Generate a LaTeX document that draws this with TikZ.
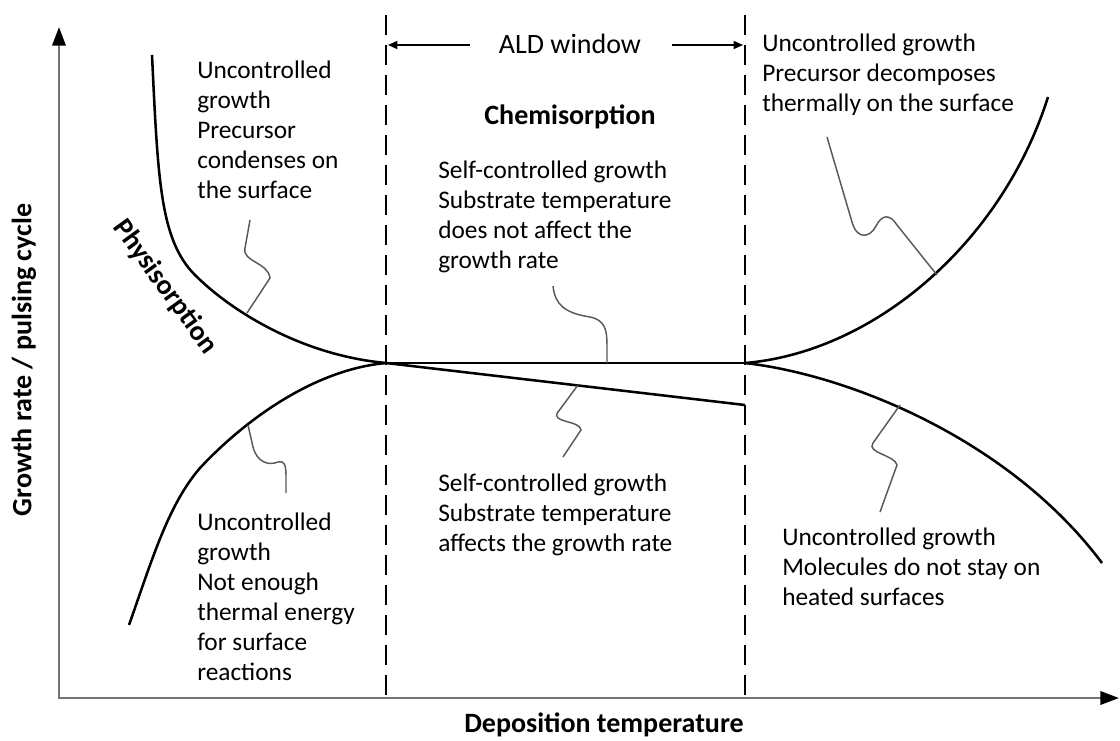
\documentclass[tikz,border=0pt]{standalone}
\usepackage{fontspec}
\setmainfont{Carlito}
\usetikzlibrary{arrows.meta}
\begin{document}
\begin{tikzpicture}[x=0.75pt,y=-0.75pt,
  curve/.style={line width=1.9pt, black},
  leader/.style={line width=1.1pt, black!65},
  axisline/.style={line width=1.9pt, black!55, -{Triangle[length=14pt,width=10pt,color=black]}},
  dashline/.style={line width=1.9pt, black, dash pattern=on 15pt off 7.5pt},
  aldarrow/.style={line width=1.1pt, black, -{Triangle[length=7pt,width=6pt]}},
  txt/.style={font=\fontsize{19}{22.5}\selectfont, align=left, inner sep=0pt, anchor=north west},
  boldlbl/.style={font=\fontsize{21}{24}\selectfont\bfseries, inner sep=0pt}
]
\useasboundingbox (0,0) rectangle (1120,740);
\fill[white] (0,0) rectangle (1120,740);

% axes
\coordinate (O) at (59,698);
\coordinate (ytop) at (59,27);
\coordinate (xend) at (1119,698);
\draw[axisline] (59,699) -- (ytop);
\draw[axisline] (58,698) -- (xend);

% dashed window boundaries
\coordinate (d1t) at (386,15);
\coordinate (d1b) at (386,698);
\coordinate (d2t) at (745,15);
\coordinate (d2b) at (745,698);
\draw[dashline] (d1t) -- (d1b);
\draw[dashline] (d2t) -- (d2b);

% ALD window
\node[font=\fontsize{21}{24}\selectfont, inner sep=0pt] (ald) at (570,44) {ALD window};
\coordinate (al) at (388,45);
\coordinate (ar) at (743,45);
\coordinate (als) at (470,45);
\coordinate (ars) at (672,45);
\draw[aldarrow] (als) -- (al);
\draw[aldarrow] (ars) -- (ar);

% junctions
\coordinate (J1) at (386,363);
\coordinate (J2) at (745,363);
\coordinate (S2) at (745,405);

% curves
\draw[curve] (152,55) .. controls (158,180) and (160,240) .. (195,275)
  .. controls (230,310) and (300,355) .. (J1);
\draw[curve] (129,625) .. controls (152,560) and (168,505) .. (200,468)
  .. controls (240,425) and (310,370) .. (J1);
\draw[curve] (J1) -- (J2);
\draw[curve] (J1) -- (S2);
\draw[curve] (J2) .. controls (875,352) and (1002,242) .. (1048,97);
\draw[curve] (J2) .. controls (850,375) and (1010,440) .. (1102,563);

% leaders
\draw[leader] (250,220) -- (245,248) .. controls (242,262) and (268,262) .. (270,278) -- (247,313);
\draw[leader] (553,286) .. controls (555,305) and (565,313) .. (590,317) .. controls (605,320) and (607,330) .. (607,345) -- (607,363);
\draw[leader] (578,385) -- (558,412) .. controls (550,423) and (580,420) .. (581,430) -- (563,457);
\draw[leader] (827,137) -- (852,222) .. controls (857,240) and (870,238) .. (876,226) .. controls (882,214) and (890,214) .. (897,225) -- (937,275);
\draw[leader] (900,405) -- (873,443) .. controls (866,453) and (895,455) .. (897,465) -- (880,512);
\draw[leader] (248,425) -- (253,447) .. controls (257,462) and (268,466) .. (278,462) .. controls (284,460) and (286,465) .. (286,475) -- (286,493);

% texts
\node[txt] (tl) at (197,60.5) {Uncontrolled\\growth\\Precursor\\condenses on\\the surface};
\node[boldlbl] (chem) at (570,117) {Chemisorption};
\node[txt] (mt) at (438,160.5) {Self-controlled growth\\Substrate temperature\\does not affect the\\growth rate};
\node[txt] (tr) at (762,33.5) {Uncontrolled growth\\Precursor decomposes\\thermally on the surface};
\node[txt] (bl) at (197,512.5) {Uncontrolled\\growth\\Not enough\\thermal energy\\for surface\\reactions};
\node[txt] (bm) at (438,473.5) {Self-controlled growth\\Substrate temperature\\affects the growth rate};
\node[txt] (br) at (782,527.5) {Uncontrolled growth\\Molecules do not stay on\\heated surfaces};

\node[boldlbl, rotate=-54] (phys) at (165,287) {Physisorption};
\node[boldlbl, rotate=90] (ylab) at (24,360) {Growth rate / pulsing cycle};
\node[boldlbl] (xlab) at (604,725) {Deposition temperature};
\end{tikzpicture}
\end{document}
